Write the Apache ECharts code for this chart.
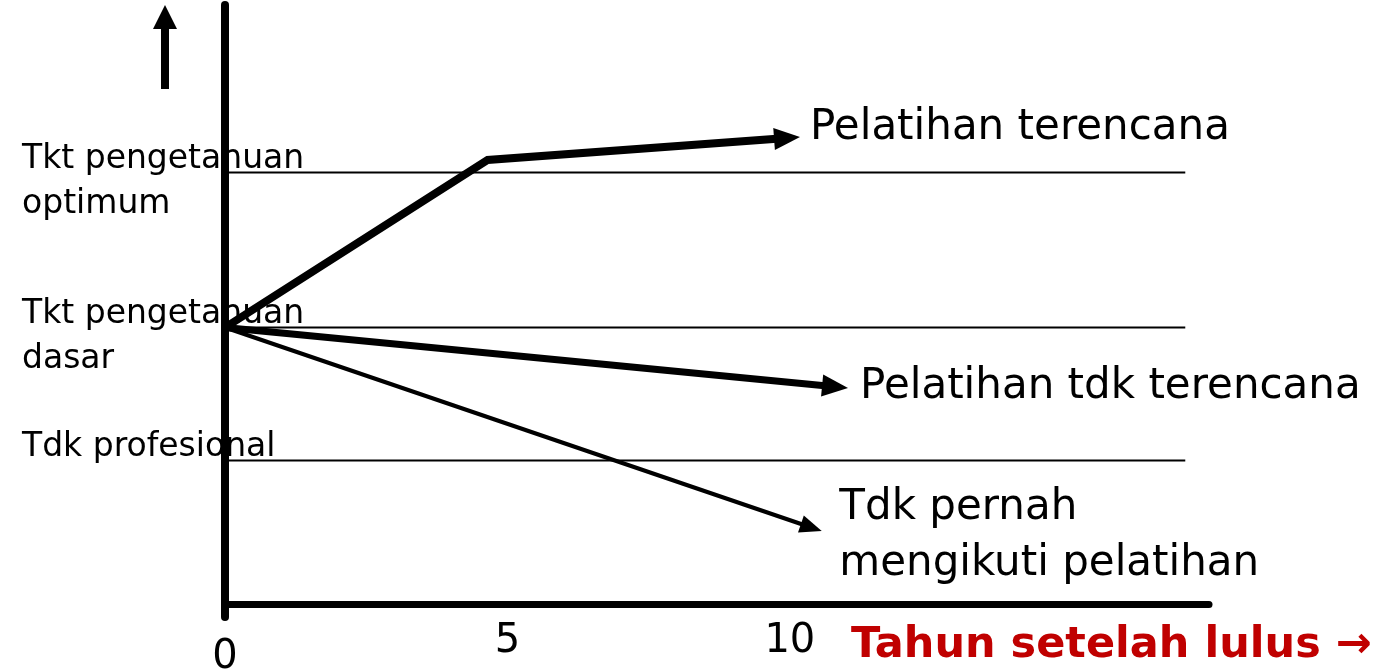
<!DOCTYPE html>
<html>
<head>
<meta charset="utf-8">
<script src="https://cdn.jsdelivr.net/npm/echarts@6/dist/echarts.min.js"></script>
<style>
  html, body { margin: 0; padding: 0; background: #fff; }
  #chart { width: 1389px; height: 672px; }
</style>
</head>
<body>
<div id="chart"></div>
<script>
// years after graduating
const xTicks = [0, 5, 10]
// knowledge levels (horizontal reference lines)
const levelLabels = [['Tkt pengetahuan', 'optimum'], ['Tkt pengetahuan', 'dasar'], ['Tdk profesional', ' ']]
const levelValues = [43.2, 27.7, 14.4]
const levelEnd = 17
// the three paths (last point = middle of the arrow head)
const plannedX = [0, 4.65, 9.95]
const plannedY = [27.7, 44.45, 46.65]
const unplannedX = [0, 10.8]
const unplannedY = [27.7, 21.77]
const neverX = [0, 10.38]
const neverY = [27.7, 7.7]
const pathNames = ['Pelatihan terencana', 'Pelatihan tdk terencana', 'Tdk pernah\nmengikuti pelatihan']

const FONT = 'DejaVu Sans'

function pairs (xs, ys) {
  return xs.map((x, i) => [x, ys[i]])
}

function arrowPath (name, xs, ys, width, headSize, labelDist, labelOffset) {
  let pts = pairs(xs, ys)
  let n = pts.length
  return {
    name: name,
    type: 'line',
    z: 4,
    symbol: 'none',
    lineStyle: { color: '#000', width: width, cap: 'butt', join: 'miter' },
    data: pts,
    endLabel: {
      show: true,
      formatter: name,
      color: '#000',
      fontFamily: FONT,
      fontSize: 42,
      lineHeight: 56,
      distance: labelDist,
      offset: labelOffset
    },
    markLine: {
      silent: true,
      symbol: ['none', 'triangle'],
      symbolSize: headSize,
      label: { show: false },
      lineStyle: { color: '#000', width: 0, type: 'solid' },
      data: [[{ coord: pts[n - 2] }, { coord: pts[n - 1] }]]
    }
  }
}

let chart = echarts.init(document.getElementById('chart'))

let series = []
levelValues.forEach((v, i) => {
  series.push({
    name: 'level' + i,
    type: 'line',
    z: 2,
    symbol: 'none',
    lineStyle: { color: '#000', width: 2 },
    data: [[0, v], [levelEnd, v]]
  })
})
series.push(arrowPath(pathNames[0], plannedX, plannedY, 8, [22, 26], 23, [0, -10]))
series.push(arrowPath(pathNames[1], unplannedX, unplannedY, 7, [22, 26], 25, [0, 0]))
series.push(arrowPath(pathNames[2], neverX, neverY, 4, [18, 22], 28, [0, 9]))

let option = {
  animation: false,
  title: {
    text: 'Tahun setelah lulus →',
    left: 851,
    top: 624,
    padding: 0,
    textStyle: { color: '#c00000', fontFamily: FONT, fontWeight: 'bold', fontSize: 43 }
  },
  grid: { left: 225, top: 5, width: 984, height: 612, outerBoundsMode: 'none', containLabel: false },
  xAxis: {
    type: 'value',
    min: 0,
    max: 17.42,
    axisLine: { onZero: true, lineStyle: { color: '#000', width: 7 } },
    axisTick: { show: false },
    splitLine: { show: false },
    axisLabel: {
      customValues: xTicks,
      margin: 5,
      color: '#000',
      fontFamily: FONT,
      fontSize: 40,
      formatter (v) {
        return v === 0 ? '{z|0}' : String(v)
      },
      rich: {
        z: { fontFamily: FONT, fontSize: 40, color: '#000', padding: [16, 0, 0, 0] }
      }
    }
  },
  yAxis: [
    {
      type: 'value',
      min: -1.25,
      max: 59.95,
      z: 0,
      axisLine: { show: false },
      axisTick: { show: false },
      splitLine: { show: false },
      axisLabel: {
        customValues: levelValues,
        align: 'left',
        verticalAlign: 'middle',
        margin: 203,
        color: '#000',
        fontFamily: FONT,
        fontSize: 33,
        formatter (v) {
          let lines = levelLabels[levelValues.indexOf(v)]
          return '{s| }\n{a|' + lines[0] + '}\n{a|' + lines[1] + '}'
        },
        rich: {
          s: { fontSize: 10, lineHeight: 18 },
          a: { fontFamily: FONT, fontSize: 33, lineHeight: 45, color: '#000' }
        }
      }
    },
    {
      type: 'value',
      position: 'left',
      min: -1.25,
      max: 59.95,
      z: 6,
      axisLine: { show: true, onZero: false, lineStyle: { color: '#000', width: 8 } },
      axisTick: { show: false },
      axisLabel: { show: false },
      splitLine: { show: false }
    }
  ],
  graphic: [
    {
      type: 'group',
      left: 153,
      top: 5,
      children: [
        { type: 'rect', shape: { x: 8, y: 22, width: 8, height: 62 }, style: { fill: '#000' } },
        { type: 'polygon', shape: { points: [[0, 24], [12, 0], [24, 24]] }, style: { fill: '#000' } }
      ]
    }
  ],
  series: series
}
chart.setOption(option)
</script>
</body>
</html>
